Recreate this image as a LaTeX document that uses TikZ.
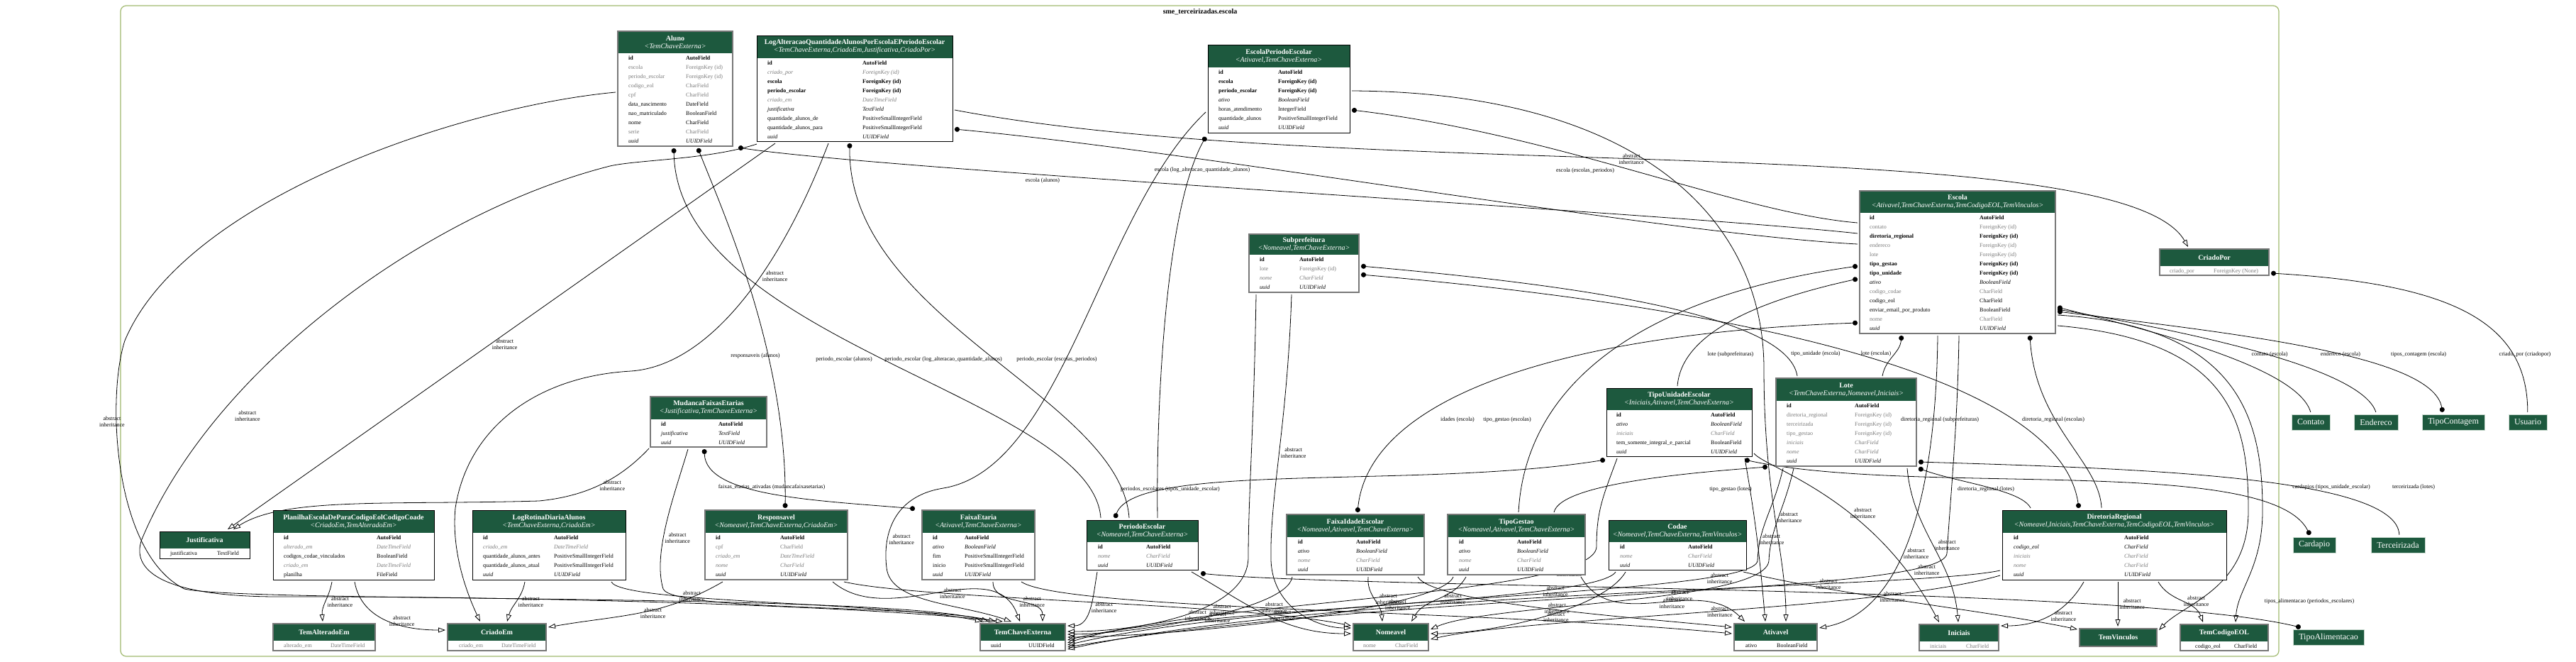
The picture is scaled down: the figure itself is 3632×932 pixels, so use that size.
\documentclass[tikz,border=0pt]{standalone}
\usepackage{fontspec}
\setmainfont{Liberation Serif}
\usetikzlibrary{arrows.meta}
\definecolor{hdrgreen}{RGB}{29,89,62}
\definecolor{clusgreen}{RGB}{160,185,110}
\definecolor{fgray}{RGB}{123,123,123}
\definecolor{bgray}{RGB}{120,120,120}
\definecolor{extborder}{RGB}{205,220,210}
\pgfdeclarelayer{edges}
\pgfsetlayers{edges,main}
\newcommand\rowfont{\fontsize{8}{13}\selectfont}
\newcommand\rB[2]{\textbf{#1}&\textbf{#2}}
\newcommand\rN[2]{#1&#2}
\newcommand\rG[2]{\textcolor{fgray}{#1}&\textcolor{fgray}{#2}}
\newcommand\rI[2]{\textit{#1}&\textit{#2}}
\newcommand\rGI[2]{\textcolor{fgray}{\textit{#1}}&\textcolor{fgray}{\textit{#2}}}
\newcommand\ai{abstract\\inheritance}
\newcommand\mtab[8]{%
 \node[fill=white, minimum width=#4-#2, minimum height=#5-#3, anchor=north west, inner sep=0pt, outer sep=0pt] (#1) at (#2,-#3) {};
 \fill[hdrgreen] (#2,-#3) rectangle (#4,-#6);
 \draw[#7] (#1.north west) rectangle (#1.south east);
 \node[htext] (#1-h) at ({(#2+#4)/2},{-(#3+#6)/2}) {#8};
}
\newcommand\mrows[5]{\node[rowsty] (#1) at (#2,-#3) {\begin{tabular}{@{}p{#4pt}@{}l@{}}#5\end{tabular}};}
\begin{document}
\begin{tikzpicture}[x=1pt,y=1pt,
  htext/.style={text=white, align=center, font=\fontsize{10}{11}\selectfont, inner sep=0pt},
  rowsty/.style={anchor=north west, inner sep=0pt, font=\rowfont},
  bk/.style={black, line width=1pt},
  gr/.style={bgray, line width=1.6pt},
  inh/.style={line width=0.8pt, -{Triangle[open,length=10pt,width=7pt]}},
  fk/.style={line width=0.8pt, {Circle[length=7pt]}-},
  mm/.style={line width=0.8pt, {Circle[length=7pt]}-{Circle[length=7pt]}},
  lbl/.style={font=\fontsize{8}{9}\selectfont, align=center, inner sep=1pt},
  il/.style={lbl, anchor=west, xshift=1pt},
  ext/.style={fill=hdrgreen, draw=extborder, text=white, font=\fontsize{12}{14}\selectfont, inner sep=0pt, minimum height=22pt},
]
\useasboundingbox (0,0) rectangle (3632,-932);

% ---------------- concrete models
\mtab{aluno}{871}{44}{1033}{206}{75}{gr}{\textbf{Aluno}\\\textit{<TemChaveExterna>}}
\mrows{aluno-r}{886}{75}{81}{\rB{id}{AutoField}\\\rG{escola}{ForeignKey (id)}\\\rG{periodo\_escolar}{ForeignKey (id)}\\\rG{codigo\_eol}{CharField}\\\rG{cpf}{CharField}\\\rN{data\_nascimento}{DateField}\\\rN{nao\_matriculado}{BooleanField}\\\rN{nome}{CharField}\\\rG{serie}{CharField}\\\rI{uuid}{UUIDField}}

\mtab{logalt}{1067}{50}{1343}{199}{82}{bk}{\textbf{LogAlteracaoQuantidadeAlunosPorEscolaEPeriodoEscolar}\\\textit{<TemChaveExterna,CriadoEm,Justificativa,CriadoPor>}}
\mrows{logalt-r}{1082}{82}{134}{\rB{id}{AutoField}\\\rGI{criado\_por}{ForeignKey (id)}\\\rB{escola}{ForeignKey (id)}\\\rB{periodo\_escolar}{ForeignKey (id)}\\\rGI{criado\_em}{DateTimeField}\\\rI{justificativa}{TextField}\\\rN{quantidade\_alunos\_de}{PositiveSmallIntegerField}\\\rN{quantidade\_alunos\_para}{PositiveSmallIntegerField}\\\rI{uuid}{UUIDField}}

\mtab{epe}{1703}{63}{1903}{187}{95}{bk}{\textbf{EscolaPeriodoEscolar}\\\textit{<Ativavel,TemChaveExterna>}}
\mrows{epe-r}{1718}{95}{84}{\rB{id}{AutoField}\\\rB{escola}{ForeignKey (id)}\\\rB{periodo\_escolar}{ForeignKey (id)}\\\rI{ativo}{BooleanField}\\\rN{horas\_atendimento}{IntegerField}\\\rN{quantidade\_alunos}{PositiveSmallIntegerField}\\\rI{uuid}{UUIDField}}

\mtab{escola}{2622}{269}{2898}{470}{300}{gr}{\textbf{Escola}\\\textit{<Ativavel,TemChaveExterna,TemCodigoEOL,TemVinculos>}}
\mrows{escola-r}{2636}{300}{155}{\rB{id}{AutoField}\\\rG{contato}{ForeignKey (id)}\\\rB{diretoria\_regional}{ForeignKey (id)}\\\rG{endereco}{ForeignKey (id)}\\\rG{lote}{ForeignKey (id)}\\\rB{tipo\_gestao}{ForeignKey (id)}\\\rB{tipo\_unidade}{ForeignKey (id)}\\\rI{ativo}{BooleanField}\\\rG{codigo\_codae}{CharField}\\\rN{codigo\_eol}{CharField}\\\rN{enviar\_email\_por\_produto}{BooleanField}\\\rG{nome}{CharField}\\\rI{uuid}{UUIDField}}

\mtab{subpref}{1761}{330}{1916}{412}{359}{gr}{\textbf{Subprefeitura}\\\textit{<Nomeavel,TemChaveExterna>}}
\mrows{subpref-r}{1776}{359}{56}{\rB{id}{AutoField}\\\rG{lote}{ForeignKey (id)}\\\rGI{nome}{CharField}\\\rI{uuid}{UUIDField}}

\mtab{tue}{2265}{547}{2470}{643}{578}{bk}{\textbf{TipoUnidadeEscolar}\\\textit{<Iniciais,Ativavel,TemChaveExterna>}}
\mrows{tue-r}{2279}{578}{133}{\rB{id}{AutoField}\\\rI{ativo}{BooleanField}\\\rGI{iniciais}{CharField}\\\rN{tem\_somente\_integral\_e\_parcial}{BooleanField}\\\rI{uuid}{UUIDField}}

\mtab{lote}{2504}{533}{2702}{657}{565}{gr}{\textbf{Lote}\\\textit{<TemChaveExterna,Nomeavel,Iniciais>}}
\mrows{lote-r}{2519}{565}{96}{\rB{id}{AutoField}\\\rG{diretoria\_regional}{ForeignKey (id)}\\\rG{terceirizada}{ForeignKey (id)}\\\rG{tipo\_gestao}{ForeignKey (id)}\\\rGI{iniciais}{CharField}\\\rGI{nome}{CharField}\\\rI{uuid}{UUIDField}}

\mtab{planilha}{385}{719}{612}{817}{751}{bk}{\textbf{PlanilhaEscolaDeParaCodigoEolCodigoCoade}\\\textit{<CriadoEm,TemAlteradoEm>}}
\mrows{planilha-r}{400}{751}{131}{\rB{id}{AutoField}\\\rGI{alterado\_em}{DateTimeField}\\\rN{codigos\_codae\_vinculados}{BooleanField}\\\rGI{criado\_em}{DateTimeField}\\\rN{planilha}{FileField}}

\mtab{logrot}{666}{719}{882}{817}{751}{bk}{\textbf{LogRotinaDiariaAlunos}\\\textit{<TemChaveExterna,CriadoEm>}}
\mrows{logrot-r}{681}{751}{100}{\rB{id}{AutoField}\\\rGI{criado\_em}{DateTimeField}\\\rN{quantidade\_alunos\_antes}{PositiveSmallIntegerField}\\\rN{quantidade\_alunos\_atual}{PositiveSmallIntegerField}\\\rI{uuid}{UUIDField}}

\mtab{mudanca}{917}{559}{1081}{630}{591}{gr}{\textbf{MudancaFaixasEtarias}\\\textit{<Justificativa,TemChaveExterna>}}
\mrows{mudanca-r}{932}{591}{81}{\rB{id}{AutoField}\\\rI{justificativa}{TextField}\\\rI{uuid}{UUIDField}}

\mtab{resp}{994}{719}{1195}{817}{751}{gr}{\textbf{Responsavel}\\\textit{<Nomeavel,TemChaveExterna,CriadoEm>}}
\mrows{resp-r}{1009}{751}{91}{\rB{id}{AutoField}\\\rG{cpf}{CharField}\\\rGI{criado\_em}{DateTimeField}\\\rGI{nome}{CharField}\\\rI{uuid}{UUIDField}}

\mtab{faixaet}{1300}{719}{1459}{817}{751}{gr}{\textbf{FaixaEtaria}\\\textit{<Ativavel,TemChaveExterna>}}
\mrows{faixaet-r}{1315}{751}{45}{\rB{id}{AutoField}\\\rI{ativo}{BooleanField}\\\rN{fim}{PositiveSmallIntegerField}\\\rN{inicio}{PositiveSmallIntegerField}\\\rI{uuid}{UUIDField}}

\mtab{periodo}{1532}{733}{1689}{803}{764}{bk}{\textbf{PeriodoEscolar}\\\textit{<Nomeavel,TemChaveExterna>}}
\mrows{periodo-r}{1548}{764}{68}{\rB{id}{AutoField}\\\rGI{nome}{CharField}\\\rI{uuid}{UUIDField}}

\mtab{faixaid}{1814}{725}{2008}{810}{757}{gr}{\textbf{FaixaIdadeEscolar}\\\textit{<Nomeavel,Ativavel,TemChaveExterna>}}
\mrows{faixaid-r}{1830}{757}{82}{\rB{id}{AutoField}\\\rI{ativo}{BooleanField}\\\rGI{nome}{CharField}\\\rI{uuid}{UUIDField}}

\mtab{tipogestao}{2041}{725}{2235}{810}{757}{gr}{\textbf{TipoGestao}\\\textit{<Nomeavel,Ativavel,TemChaveExterna>}}
\mrows{tipogestao-r}{2057}{757}{82}{\rB{id}{AutoField}\\\rI{ativo}{BooleanField}\\\rGI{nome}{CharField}\\\rI{uuid}{UUIDField}}

\mtab{codae}{2268}{733}{2462}{803}{764}{bk}{\textbf{Codae}\\\textit{<Nomeavel,TemChaveExterna,TemVinculos>}}
\mrows{codae-r}{2284}{764}{96}{\rB{id}{AutoField}\\\rGI{nome}{CharField}\\\rI{uuid}{UUIDField}}

\mtab{dre}{2823}{719}{3139}{817}{751}{bk}{\textbf{DiretoriaRegional}\\\textit{<Nomeavel,Iniciais,TemChaveExterna,TemCodigoEOL,TemVinculos>}}
\mrows{dre-r}{2839}{751}{156}{\rB{id}{AutoField}\\\rI{codigo\_eol}{CharField}\\\rGI{iniciais}{CharField}\\\rGI{nome}{CharField}\\\rI{uuid}{UUIDField}}

% ---------------- abstract models
\mtab{justif}{225}{749}{352}{787}{773}{bk}{\textbf{Justificativa}}
\mrows{justif-r}{240}{773}{66}{\rN{justificativa}{TextField}}
\mtab{temalt}{385}{879}{529}{917}{903}{gr}{\textbf{TemAlteradoEm}}
\mrows{temalt-r}{400}{903}{66}{\rG{alterado\_em}{DateTimeField}}
\mtab{criadoem}{631}{879}{770}{917}{903}{gr}{\textbf{CriadoEm}}
\mrows{criadoem-r}{647}{903}{60}{\rG{criado\_em}{DateTimeField}}
\mtab{criadopor}{3045}{351}{3199}{388}{375}{gr}{\textbf{CriadoPor}}
\mrows{criadopor-r}{3059}{375}{62}{\rG{criado\_por}{ForeignKey (None)}}
\mtab{tce}{1382}{879}{1502}{917}{903}{gr}{\textbf{TemChaveExterna}}
\mrows{tce-r}{1397}{903}{53}{\rN{uuid}{UUIDField}}
\mtab{nomeavel}{1908}{879}{2014}{917}{903}{gr}{\textbf{Nomeavel}}
\mrows{nomeavel-r}{1922}{903}{45}{\rG{nome}{CharField}}
\mtab{ativavel}{2445}{879}{2562}{917}{903}{gr}{\textbf{Ativavel}}
\mrows{ativavel-r}{2461}{903}{44}{\rN{ativo}{BooleanField}}
\mtab{iniciais}{2706}{880}{2818}{917}{904}{gr}{\textbf{Iniciais}}
\mrows{iniciais-r}{2721}{904}{51}{\rG{iniciais}{CharField}}
\mtab{temvinc}{2932}{886}{3041}{911}{911}{gr}{\textbf{TemVinculos}}
\mtab{temcod}{3074}{880}{3198}{917}{904}{gr}{\textbf{TemCodigoEOL}}
\mrows{temcod-r}{3095}{904}{55}{\rN{codigo\_eol}{CharField}}

% ---------------- external models
\node[ext, minimum width=54pt] (contato) at (3258,-595) {Contato};
\node[ext, minimum width=62pt] (endereco) at (3350,-595) {Endereco};
\node[ext, minimum width=88pt] (tipocont) at (3459,-595) {TipoContagem};
\node[ext, minimum width=54pt] (usuario) at (3564,-595) {Usuario};
\node[ext, minimum width=60pt] (cardapio) at (3263,-768) {Cardapio};
\node[ext, minimum width=76pt] (terceir) at (3381,-768) {Terceirizada};
\node[ext, minimum width=100pt] (tipoalim) at (3283,-898.5) {TipoAlimentacao};

\node[font=\fontsize{10}{12}\selectfont\bfseries] (ctitle) at (1692,-17) {sme\_terceirizadas.escola};

% ---------------- FK labels
\node[lbl] (lb1) at (1470,-255) {escola (alunos)};
\node[lbl] (lb2) at (1695,-240) {escola (log\_alteracao\_quantidade\_alunos)};
\node[lbl] (lb3) at (2235,-241) {escola (escolas\_periodos)};
\node[lbl] (lb4) at (1065,-502) {responsaveis (alunos)};
\node[lbl] (lb5) at (1190,-507) {periodo\_escolar (alunos)};
\node[lbl] (lb6) at (1330,-507) {periodo\_escolar (log\_alteracao\_quantidade\_alunos)};
\node[lbl] (lb7) at (1490,-507) {periodo\_escolar (escolas\_periodos)};
\node[lbl] (lb8) at (1088,-687) {faixas\_etarias\_ativadas (mudancafaixasetarias)};
\node[lbl] (lb9) at (1650,-690) {periodos\_escolares (tipos\_unidade\_escolar)};
\node[lbl] (lb10) at (2440,-500) {lote (subprefeituras)};
\node[lbl] (lb11) at (2560,-499) {tipo\_unidade (escola)};
\node[lbl] (lb12) at (2645,-499) {lote (escolas)};
\node[lbl] (lb13) at (2055,-592) {idades (escola)};
\node[lbl] (lb14) at (2125,-592) {tipo\_gestao (escolas)};
\node[lbl] (lb15) at (2735,-592) {diretoria\_regional (subprefeituras)};
\node[lbl] (lb16) at (2895,-592) {diretoria\_regional (escolas)};
\node[lbl] (lb17) at (2440,-690) {tipo\_gestao (lotes)};
\node[lbl] (lb18) at (2800,-690) {diretoria\_regional (lotes)};
\node[lbl] (lb19) at (3200,-500) {contato (escola)};
\node[lbl] (lb20) at (3300,-500) {endereco (escola)};
\node[lbl] (lb21) at (3410,-500) {tipos\_contagem (escola)};
\node[lbl] (lb22) at (3560,-500) {criado\_por (criadopor)};
\node[lbl] (lb23) at (3287,-687) {cardapios (tipos\_unidade\_escolar)};
\node[lbl] (lb24) at (3403,-687) {terceirizada (lotes)};
\node[lbl] (lb25) at (3256,-848) {tipos\_alimentacao (periodos\_escolares)};
\node[lbl] (lb26) at (158,-594) {\ai};

\begin{pgfonlayer}{edges}
\fill[white] (0,0) rectangle (3632,-932);
\draw[clusgreen, line width=1.2pt, rounded corners=8pt] (170,-8) rectangle (3213,-925);

% ---- inheritance: Justificativa, TemAlteradoEm, CriadoEm, CriadoPor
\draw[inh] ([shift={(26,-3)}]logalt.south west) -- node[il,pos=0.52]{\ai} ([shift={(96,3)}]justif.north west);
\draw[inh] ([shift={(-2,-2)}]mudanca.south west) .. controls (870,-680) and (820,-700) .. (760,-706) node[il,pos=0.5]{\ai} .. controls (550,-712) and (400,-700) .. ([shift={(104,3)}]justif.north west);
\draw[inh] ([shift={(83,-3)}]planilha.south west) to[out=-100,in=95] node[il]{\ai} ([shift={(70,3)}]temalt.north west);
\draw[inh] ([shift={(115,-3)}]planilha.south west) to[out=-80,in=180] node[il]{\ai} ([shift={(-3,-9)}]criadoem.north west);
\draw[inh] ([shift={(101,-3)}]logalt.south west) .. controls (1100,-380) and (1000,-515) .. (890,-523) node[il,pos=0.4]{\ai} .. controls (760,-530) and (660,-600) .. (642,-716) .. controls (636,-780) and (660,-840) .. ([shift={(46,3)}]criadoem.north west);
\draw[inh] ([shift={(74,-3)}]logrot.south west) to[out=-100,in=75] node[il]{\ai} ([shift={(84,3)}]criadoem.north west);
\draw[inh] ([shift={(25,-3)}]resp.south west) to[out=-150,in=10] node[il]{\ai} ([shift={(3,-5)}]criadoem.north east);
\draw[inh] ([shift={(3,-105)}]logalt.north east) .. controls (1900,-260) and (2990,-180) .. ([shift={(40,3)}]criadopor.north west) node[il,pos=0.45]{\ai};

% ---- inheritance: TemChaveExterna
\draw[inh] ([shift={(-3,-86)}]aluno.north west) .. controls (650,-150) and (260,-280) .. (176,-480) .. controls (150,-560) and (160,-780) .. (260,-830) .. controls (350,-850) and (1250,-835) .. ([shift={(12,3)}]tce.north west);
\draw[inh] ([shift={(0,-4)}]logalt.south west) .. controls (1000,-225) and (900,-225) .. (860,-234) .. controls (600,-300) and (300,-520) .. (200,-760) node[il,pos=0.75,xshift=20pt]{\ai} .. controls (185,-800) and (220,-842) .. (400,-841) .. controls (700,-840) and (1200,-852) .. ([shift={(32,3)}]tce.north west);
\draw[inh] ([shift={(53,-3)}]mudanca.south west) .. controls (950,-700) and (920,-780) .. (935,-830) node[il,pos=0.6]{\ai} .. controls (950,-862) and (1300,-852) .. ([shift={(22,3)}]tce.north west);
\draw[inh] ([shift={(196,-3)}]logrot.south west) .. controls (875,-850) and (1250,-848) .. ([shift={(3,3)}]tce.north west) node[il,pos=0.3]{\ai};
\draw[inh] ([shift={(180,-3)}]resp.south west) to[out=-40,in=110] node[il]{\ai} ([shift={(56,3)}]tce.north west);
\draw[inh] ([shift={(100,-3)}]faixaet.south west) to[out=-90,in=90] node[il]{\ai} ([shift={(88,3)}]tce.north west);
\draw[inh] ([shift={(-3,-95)}]epe.north west) .. controls (1550,-300) and (1500,-660) .. (1330,-688) .. controls (1255,-700) and (1245,-760) .. (1250,-800) node[il,pos=0.7]{\ai} .. controls (1255,-850) and (1350,-850) .. ([shift={(44,3)}]tce.north west);
\draw[inh] ([shift={(10,-3)}]subpref.south west) .. controls (1768,-600) and (1760,-700) .. (1760,-785) .. controls (1760,-865) and (1600,-890) .. ([shift={(3,-11)}]tce.north east) node[il,pos=0.5]{\ai};
\draw[inh] ([shift={(15,-3)}]periodo.south west) to[out=-100,in=0] node[il]{\ai} ([shift={(3,-3)}]tce.north east);
\draw[inh] ([shift={(8,-3)}]faixaid.south west) .. controls (1815,-860) and (1600,-893) .. ([shift={(3,-15)}]tce.north east) node[il,pos=0.5]{\ai};
\draw[inh] ([shift={(8,-3)}]tipogestao.south west) .. controls (2030,-860) and (1650,-897) .. ([shift={(3,-19)}]tce.north east) node[il,pos=0.3]{\ai};
\draw[inh] ([shift={(10,-3)}]codae.south west) .. controls (2250,-850) and (1700,-855) .. ([shift={(3,-23)}]tce.north east) node[il,pos=0.25]{\ai};
\draw[inh] ([shift={(15,-3)}]tue.south west) .. controls (2260,-700) and (2251,-720) .. (2251,-770) .. controls (2252,-840) and (1700,-845) .. ([shift={(3,-27)}]tce.north east) node[il,pos=0.2]{\ai};
\draw[inh] ([shift={(10,-3)}]lote.south west) .. controls (2500,-720) and (2480,-740) .. (2478,-790) .. controls (2476,-840) and (1800,-840) .. ([shift={(3,-30)}]tce.north east) node[il,pos=0.2]{\ai};
\draw[inh] ([shift={(140,-3)}]escola.south west) .. controls (2760,-600) and (2750,-700) .. (2745,-780) .. controls (2740,-840) and (2000,-830) .. ([shift={(3,-33)}]tce.north east) node[il,pos=0.15]{\ai};
\draw[inh] ([shift={(-3,-85)}]dre.north west) .. controls (2700,-830) and (1900,-830) .. ([shift={(3,-36)}]tce.north east) node[il,pos=0.3]{\ai};

% ---- inheritance: Nomeavel
\draw[inh] ([shift={(60,-3)}]subpref.south west) .. controls (1815,-600) and (1790,-700) .. (1792,-790) node[il,pos=0.5]{\ai} .. controls (1795,-860) and (1860,-885) .. ([shift={(-3,-6)}]nomeavel.north west);
\draw[inh] ([shift={(25,-3)}]lote.south west) .. controls (2515,-720) and (2496,-745) .. (2494,-790) .. controls (2490,-850) and (2100,-850) .. ([shift={(3,-8)}]nomeavel.north east) node[il,pos=0.4]{\ai};
\draw[inh] ([shift={(196,-3)}]resp.south west) .. controls (1300,-845) and (1750,-850) .. ([shift={(-3,-3)}]nomeavel.north west) node[il,pos=0.7]{\ai};
\draw[inh] ([shift={(148,-3)}]periodo.south west) to[out=-30,in=180] node[il]{\ai} ([shift={(-3,-14)}]nomeavel.north west);
\draw[inh] ([shift={(115,-3)}]faixaid.south west) to[out=-95,in=95] node[il]{\ai} ([shift={(41,3)}]nomeavel.north west);
\draw[inh] ([shift={(26,-3)}]tipogestao.south west) to[out=-120,in=60] node[il]{\ai} ([shift={(82,3)}]nomeavel.north west);
\draw[inh] ([shift={(24,-3)}]codae.south west) .. controls (2260,-860) and (2100,-893) .. ([shift={(3,-14)}]nomeavel.north east) node[il,pos=0.5]{\ai};
\draw[inh] ([shift={(-3,-92)}]dre.north west) .. controls (2650,-860) and (2150,-870) .. ([shift={(3,-22)}]nomeavel.north east) node[il,pos=0.5]{\ai};

% ---- inheritance: Ativavel
\draw[inh] ([shift={(3,-65)}]epe.north east) .. controls (2300,-130) and (2487,-300) .. (2487,-520) .. controls (2487,-700) and (2518,-780) .. ([shift={(73,3)}]ativavel.north west) node[il,pos=0.5]{\ai};
\draw[inh] ([shift={(110,-3)}]escola.south west) .. controls (2730,-650) and (2700,-860) .. ([shift={(3,-6)}]ativavel.north east) node[il,pos=0.6]{\ai};
\draw[inh] ([shift={(195,-3)}]tue.south west) to[out=-80,in=95] node[il]{\ai} ([shift={(44,3)}]ativavel.north west);
\draw[inh] ([shift={(140,-3)}]faixaet.south west) .. controls (1500,-860) and (2100,-860) .. ([shift={(-3,-14)}]ativavel.north west) node[il,pos=0.45]{\ai};
\draw[inh] ([shift={(185,-3)}]faixaid.south west) .. controls (2020,-850) and (2300,-870) .. ([shift={(-3,-5)}]ativavel.north west) node[il,pos=0.5]{\ai};
\draw[inh] ([shift={(188,-3)}]tipogestao.south west) to[out=-60,in=135] node[il]{\ai} ([shift={(15,3)}]ativavel.north west);

% ---- inheritance: Iniciais, TemVinculos, TemCodigoEOL
\draw[inh] ([shift={(3,-92)}]tue.north east) .. controls (2490,-660) and (2640,-700) .. ([shift={(28,3)}]iniciais.north west) node[il,pos=0.6]{\ai};
\draw[inh] ([shift={(185,-3)}]lote.south west) to[out=-85,in=95] node[il]{\ai} ([shift={(55,3)}]iniciais.north west);
\draw[inh] ([shift={(115,-3)}]dre.south west) to[out=-120,in=0] node[il]{\ai} ([shift={(3,-2)}]iniciais.north east);
\draw[inh] ([shift={(190,-3)}]codae.south west) .. controls (2600,-840) and (2800,-860) .. ([shift={(-3,-1)}]temvinc.north west) node[il,pos=0.4]{\ai};
\draw[inh] ([shift={(163,-3)}]dre.south west) to[out=-90,in=90] node[il]{\ai} ([shift={(54,3)}]temvinc.north west);
\draw[inh] ([shift={(3,-190)}]escola.north east) .. controls (3150,-480) and (3170,-600) .. (3170,-720) .. controls (3170,-830) and (3080,-850) .. ([shift={(3,-2)}]temvinc.north east);
\draw[inh] ([shift={(220,-3)}]dre.south west) to[out=-60,in=110] node[il]{\ai} ([shift={(32,3)}]temcod.north west);
\draw[inh] ([shift={(3,-175)}]escola.north east) .. controls (3165,-460) and (3190,-600) .. (3190,-720) .. controls (3190,-800) and (3155,-830) .. ([shift={(78,3)}]temcod.north west);

% ---- foreign keys and many-to-many
\draw[fk] ([shift={(8,-2)}]aluno.south east) .. controls (1250,-240) and (2350,-300) .. ([shift={(-3,-60)}]escola.north west);
\draw[fk] ([shift={(3,-132)}]logalt.north east) .. controls (1700,-215) and (2350,-330) .. ([shift={(-3,-75)}]escola.north west);
\draw[fk] ([shift={(3,-92)}]epe.north east) .. controls (2200,-190) and (2450,-300) .. ([shift={(-3,-45)}]escola.north west);
\draw[fk] ([shift={(79,-3)}]aluno.south west) .. controls (955,-480) and (1540,-560) .. ([shift={(20,3)}]periodo.north west);
\draw[fk] ([shift={(131,-3)}]logalt.south west) .. controls (1195,-450) and (1580,-560) .. ([shift={(60,3)}]periodo.north west);
\draw[fk] ([shift={(-3,-6)}]epe.south west) .. controls (1640,-300) and (1630,-600) .. ([shift={(100,3)}]periodo.north west);
\draw[mm] ([shift={(113,-3)}]aluno.south west) .. controls (1020,-300) and (1110,-500) .. ([shift={(113,3)}]resp.north west);
\draw[mm] ([shift={(76,-3)}]mudanca.south west) .. controls (995,-700) and (1150,-705) .. ([shift={(-10,2)}]faixaet.north west);
\draw[fk] ([shift={(3,-164)}]escola.north east) .. controls (3050,-470) and (3240,-520) .. ([shift={(27,3)}]contato.north west);
\draw[fk] ([shift={(3,-167)}]escola.north east) .. controls (3100,-470) and (3330,-520) .. ([shift={(31,3)}]endereco.north west);
\draw[mm] ([shift={(3,-170)}]escola.north east) .. controls (3150,-470) and (3430,-500) .. ([shift={(29,3)}]tipocont.north west);
\draw[fk] ([shift={(3,-34)}]criadopor.north east) .. controls (3450,-400) and (3564,-450) .. ([shift={(27,3)}]usuario.north west);
\draw[fk] ([shift={(240,-3)}]escola.south west) .. controls (2870,-600) and (2960,-650) .. ([shift={(140,3)}]dre.north west);
\draw[fk] ([shift={(59,-3)}]escola.south west) to[out=-95,in=80] ([shift={(150,3)}]lote.north west);
\draw[fk] ([shift={(-3,-106)}]escola.north west) .. controls (2300,-420) and (2150,-550) .. ([shift={(100,3)}]tipogestao.north west);
\draw[fk] ([shift={(-3,-124)}]escola.north west) .. controls (2450,-430) and (2370,-480) .. ([shift={(100,3)}]tue.north west);
\draw[mm] ([shift={(-3,-186)}]escola.north west) .. controls (2200,-470) and (1930,-560) .. ([shift={(100,3)}]faixaid.north west);
\draw[fk] ([shift={(3,-45)}]subpref.north east) .. controls (2200,-400) and (2520,-440) .. ([shift={(30,3)}]lote.north west);
\draw[mm] ([shift={(3,-57)}]subpref.north east) .. controls (2300,-420) and (2900,-500) .. ([shift={(108,3)}]dre.north west);
\draw[mm] ([shift={(-10,-5)}]tue.south east) .. controls (2700,-700) and (3200,-640) .. ([shift={(24,3)}]cardapio.north west);
\draw[mm] ([shift={(-2,-5)}]tue.south west) .. controls (2000,-690) and (1600,-650) .. ([shift={(40,3)}]periodo.north west);
\draw[fk] ([shift={(3,-3)}]lote.south east) .. controls (2760,-680) and (2850,-690) .. ([shift={(40,3)}]dre.north west);
\draw[fk] ([shift={(3,-118)}]lote.north east) .. controls (3000,-660) and (3380,-670) .. ([shift={(40,3)}]terceir.north west);
\draw[fk] ([shift={(-12,-1)}]lote.south west) .. controls (2400,-665) and (2200,-680) .. ([shift={(150,3)}]tipogestao.north west);
\draw[mm] ([shift={(4,-5)}]periodo.south east) .. controls (1900,-830) and (3000,-825) .. ([shift={(11,3)}]tipoalim.north west);
\end{pgfonlayer}
\end{tikzpicture}
\end{document}
